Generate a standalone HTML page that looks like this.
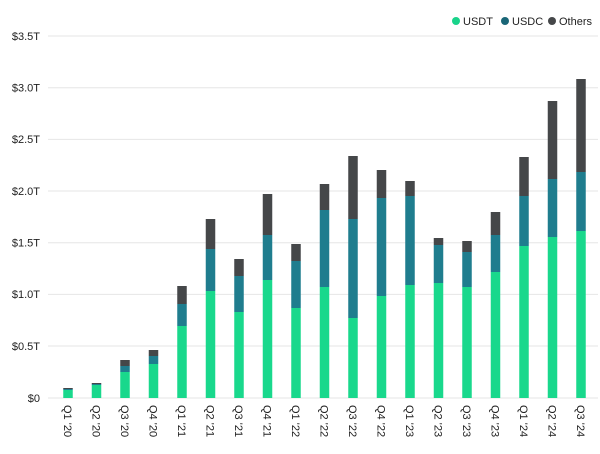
<!DOCTYPE html>
<html><head><style>
body{margin:0;background:#fff;}
svg text{font-family:"Liberation Sans",sans-serif;font-size:11px;fill:#222;}
</style></head><body>
<svg width="600" height="449" viewBox="0 0 600 449">
<g stroke="#e6e6e6" stroke-width="1">
<line x1="48" y1="36" x2="598" y2="36"/>
<line x1="48" y1="87.7" x2="598" y2="87.7"/>
<line x1="48" y1="139.4" x2="598" y2="139.4"/>
<line x1="48" y1="191" x2="598" y2="191"/>
<line x1="48" y1="242.7" x2="598" y2="242.7"/>
<line x1="48" y1="294.4" x2="598" y2="294.4"/>
<line x1="48" y1="346" x2="598" y2="346"/>
<line x1="48" y1="398" x2="598" y2="398"/>
</g>
<g text-anchor="end">
<text x="40" y="40">$3.5T</text>
<text x="40" y="91.5">$3.0T</text>
<text x="40" y="143">$2.5T</text>
<text x="40" y="195">$2.0T</text>
<text x="40" y="246.5">$1.5T</text>
<text x="40" y="298">$1.0T</text>
<text x="40" y="350">$0.5T</text>
<text x="40" y="402">$0</text>
</g>
<g id="bars"></g>
<g id="labels"></g>
<circle cx="456" cy="21" r="4" fill="#19d38a"/><text x="463" y="25">USDT</text>
<circle cx="505" cy="21" r="4" fill="#1a6677"/><text x="512" y="25">USDC</text>
<circle cx="552" cy="21" r="4" fill="#454749"/><text x="559" y="25">Others</text>
<script>
var d=[[388,389,390],[383,384,385],[360,366,372],[350,356,364],[286,304,326],[219,249,291],[259,276,312],[194,235,280],[244,261,308],[184,210,287],[156,219,318],[170,198,296],[181,196,285],[238,245,283],[241,252,287],[212,235,272],[157,196,246],[101,179,237],[79,172,231]];
var names=["Q1 '20","Q2 '20","Q3 '20","Q4 '20","Q1 '21","Q2 '21","Q3 '21","Q4 '21","Q1 '22","Q2 '22","Q3 '22","Q4 '22","Q1 '23","Q2 '23","Q3 '23","Q4 '23","Q1 '24","Q2 '24","Q3 '24"];
var ns="http://www.w3.org/2000/svg",b=document.getElementById("bars"),l=document.getElementById("labels");
function r(x,y1,y2,c){var e=document.createElementNS(ns,"rect");e.setAttribute("x",x);e.setAttribute("y",y1);e.setAttribute("width",9.5);e.setAttribute("height",Math.max(0,y2-y1));e.setAttribute("fill",c);b.appendChild(e);}
d.forEach(function(v,i){var cx=68+i*28.5,x=cx-4.75;
r(x,v[0],v[1],"#454749");r(x,v[1],v[2],"#1f7d8e");r(x,v[2],398,"#19d88c");
var t=document.createElementNS(ns,"text");t.setAttribute("transform","translate("+(cx-4)+",405) rotate(90)");t.textContent=names[i];l.appendChild(t);});
</script>
</svg>
</body></html>
